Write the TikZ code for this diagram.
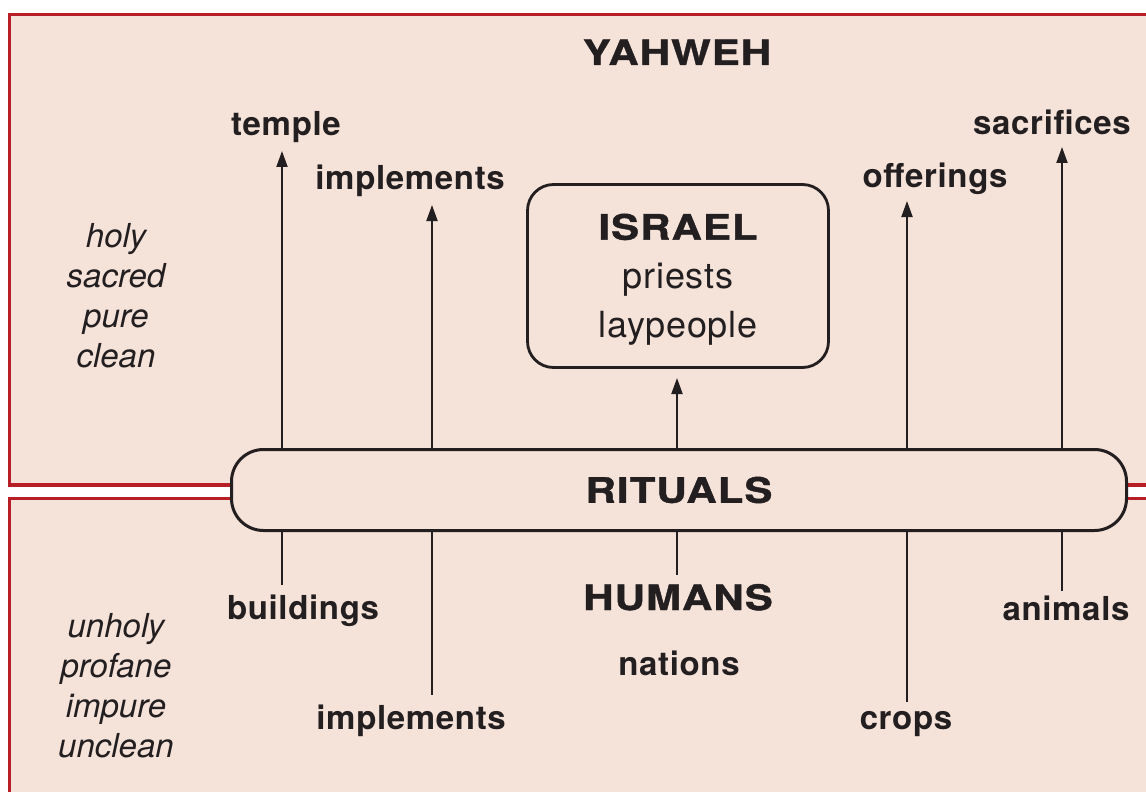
\documentclass[tikz,border=0pt]{standalone}
\usepackage{fontspec}
\setmainfont{TeX Gyre Heros}
\newfontfamily\capsfont[FakeStretch=1.2,LetterSpace=3,FakeBold=1.2]{TeX Gyre Heros}
\newfontfamily\wordfont[LetterSpace=2]{TeX Gyre Heros}
\usetikzlibrary{arrows.meta}
\definecolor{paper}{RGB}{245,226,217}
\definecolor{frame}{RGB}{183,30,38}
\definecolor{ink}{RGB}{35,31,32}

\begin{document}
\begin{tikzpicture}[x=0.5pt, y=-0.5pt,
  thing/.style={font=\wordfont\bfseries\fontsize{16.5}{20}\selectfont, text=ink, anchor=base},
  big/.style={font=\capsfont\bfseries\fontsize{17.5}{21}\selectfont, text=ink, anchor=base},
  quality/.style={font=\itshape\fontsize{16.5}{20}\selectfont, text=ink, anchor=base},
  arr/.style={-{Triangle[length=8pt,width=5.5pt]}, line width=1pt, draw=ink},
  tie/.style={line width=1pt, draw=ink}]
\useasboundingbox (0,0) rectangle (1146,792);
\clip (0,0) rectangle (1146,792);
\fill[white] (0,0) rectangle (1146,792);
% the two halves
\filldraw[fill=paper, draw=frame, line width=1.8pt] (9.5,14.5) rectangle (1180,485);
\filldraw[fill=paper, draw=frame, line width=1.8pt] (9.5,498.5) rectangle (1180,820);

\node[big] (yhwh) at (677,65) {YAHWEH};
\node[draw=ink, fill=paper, line width=1.5pt, rounded corners=16pt,
  minimum width=447.5pt, minimum height=40.5pt,
  font=\capsfont\bfseries\fontsize{17.5}{21}\selectfont, text=ink] (rit) at (679,490) {RITUALS};
\node[draw=ink, line width=1.4pt, rounded corners=13pt,
  minimum width=150.5pt, minimum height=91.5pt, align=center,
  font=\wordfont\fontsize{18}{24.5}\selectfont, text=ink] (israel) at (678,276)
  {\rule{0pt}{16.6pt}{\capsfont\bfseries\fontsize{17.5}{24.5}\selectfont ISRAEL}\\priests\\laypeople};

% left column
\foreach \w [count=\i] in {holy,sacred,pure,clean}
  \node[quality] (up\i) at (116,207+40*\i) {\w};
\foreach \w [count=\i] in {unholy,profane,impure,unclean}
  \node[quality] (down\i) at (116,597+40*\i) {\w};

% upper labels
\node[thing] (temple) at (286,135) {temple};
\node[thing] (impl) at (410,190) {implements};
\node[thing] (offer) at (935,187) {offerings};
\node[thing] (sacr) at (1052,134) {sacrifices};

% lower labels
\node[thing] (build) at (303,619) {buildings};
\node[big] (hum) at (678,610) {HUMANS};
\node[thing] (anim) at (1066,620) {animals};
\node[thing] (nat) at (679,675) {nations};
\node[thing] (impl2) at (411,729) {implements};
\node[thing] (crops) at (906,729) {crops};

% arrows up out of the rituals
\foreach \x/\y [count=\i] in {282/151, 432/205, 677/378, 907/201, 1062/147} {
  \coordinate (tip\i) at (\x,\y);
  \draw[arr] (rit.north -| tip\i) -- (tip\i);
}
% lines down into the rituals
\foreach \x/\y [count=\i] in {282/585, 432/695, 677/575, 907/702, 1062/591} {
  \coordinate (foot\i) at (\x,\y);
  \draw[tie] (rit.south -| foot\i) -- (foot\i);
}
\end{tikzpicture}
\end{document}
